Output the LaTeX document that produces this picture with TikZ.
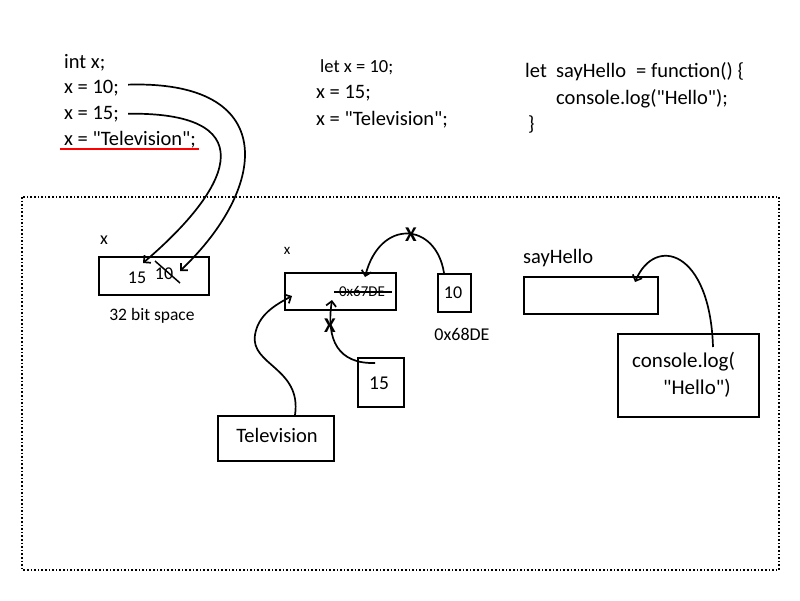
\documentclass[tikz,border=0pt]{standalone}
\usepackage{fontspec}
\setmainfont{Carlito}
\usetikzlibrary{arrows.meta}
\tikzset{
    ptr/.style={-{Straight Barb[length=5pt, width=10pt]}, line width=1.7pt},
    cell/.style={draw, line width=2pt, anchor=north west, inner sep=0pt},
    txt/.style={inner sep=0pt, anchor=base west},
    lbl/.style={inner sep=0pt, anchor=base},
    cross/.style={inner sep=0pt, font=\bfseries\fsz{21}}
}
\newcommand{\fsz}[1]{\fontsize{#1}{#1}\selectfont}
\newcommand{\dq}{\textquotedbl}

\begin{document}
\begin{tikzpicture}[x=1pt, y=-1pt]
    \useasboundingbox (0,0) rectangle (800,600);

    % Code typé
    \node[txt, font=\fsz{20.5}] (intx) at (64,68) {int x;};
    \node[txt, font=\fsz{20.5}] (ten) at (64,93) {x = 10;};
    \node[txt, font=\fsz{20.5}] (fifteen) at (64,119) {x = 15;};
    \node[txt, font=\fsz{20.5}] (tele) at (64,145) {x = \dq Television\dq;};
    \draw[red, line width=1.5pt] (60,149) -- (199,149);

    % Code let
    \node[txt, font=\fsz{18.5}] (letx) at (320,72) {let x = 10;};
    \node[txt, font=\fsz{20.5}] (midfif) at (316,98) {x = 15;};
    \node[txt, font=\fsz{20.5}] (midtele) at (316,125) {x = \dq Television\dq;};

    % Fonction
    \node[txt, font=\fsz{20.5}] (letkw) at (525,77) {let};
    \node[txt, font=\fsz{20.5}] (sayfn) at (556,77) {sayHello};
    \node[txt, font=\fsz{20.5}] (fnkw) at (636,77) {= function() \{};
    \node[txt, font=\fsz{20.5}] (conslog) at (556,104) {console.log(\dq Hello\dq);};
    \node[txt, font=\fsz{20.5}] (brace) at (528,130) {\}};

    % Mémoire
    \draw[line width=1.6pt, dash pattern=on 1.6pt off 2pt] (22,197) rectangle (779,570);

    % Premiere case : 32 bit
    \node[cell, minimum width=110pt, minimum height=38pt] (xbox) at (98,256) {};
    \node[lbl, font=\fsz{18}] (xname) at (104,244) {x};
    \node[lbl, font=\fsz{18}] (val15) at (137,283) {15};
    \node[lbl, font=\fsz{18}] (val10) at (164,279) {10};
    \draw[line width=1.5pt] (155,261) -- (180,283);
    \node[lbl, font=\fsz{17.5}] (bits) at (152,320) {32 bit space};

    \coordinate (tipten) at (180,271);
    \coordinate (tipfif) at (143,263);
    \draw[ptr] ([xshift=9pt, yshift=3pt]ten.east) .. controls (278,80) and (270,185) .. (tipten);
    \draw[ptr] ([xshift=9pt]fifteen.east) .. controls (258,112) and (240,180) .. (tipfif);

    % Deuxieme case : pointeur
    \node[cell, minimum width=111pt, minimum height=37pt] (ptrbox) at (284,272) {};
    \node[lbl, font=\fsz{15}] (xname2) at (287,254) {x};
    \node[lbl, font=\fsz{15}] (oldaddr) at (362,296) {0x67DE};
    \draw[line width=1.4pt] (334,292) -- (392,292);

    \node[cell, minimum width=33pt, minimum height=38pt] (tenbox) at (437,273) {};
    \node[lbl, font=\fsz{18}] (tenval) at (453,298) {10};
    \node[lbl, font=\fsz{18}] (newaddr) at (462,340) {0x68DE};

    \node[cell, minimum width=46pt, minimum height=49pt] (fifbox) at (357,357) {};
    \node[lbl, font=\fsz{19.5}] (fifval) at (379,389) {15};

    \node[cell, minimum width=116pt, minimum height=45pt] (tvbox) at (217,415) {};
    \node[lbl, font=\fsz{20.5}] (tvval) at (277,442) {Television};

    \coordinate (tipten2) at (365,277);
    \coordinate (tipfif2) at (332,300);
    \coordinate (tiptv) at (292,296);
    \draw[ptr] ([xshift=7pt]tenbox.north west) .. controls (436,222) and (380,218) .. (tipten2);
    \draw[ptr] ([xshift=18pt, yshift=-6pt]fifbox.north west) .. controls (338,364) and (326,340) .. (tipfif2);
    \draw[ptr] ([xshift=78pt]tvbox.north west) .. controls (302,368) and (250,365) .. (255,335)
        .. controls (258,315) and (275,305) .. (tiptv);
    \node[cross] (xten) at (411,235) {X};
    \node[cross] (xfif) at (330,326) {X};

    % Troisieme case : fonction
    \node[txt, font=\fsz{20.5}] (sayname) at (523,263) {sayHello};
    \node[cell, minimum width=134pt, minimum height=37pt] (saybox) at (523,276) {};
    \node[cell, minimum width=141pt, minimum height=83pt] (consbox) at (617,333) {};
    \node[txt, font=\fsz{21}] (cons1) at (632,367) {console.log(};
    \node[txt, font=\fsz{21}] (cons2) at (663,394) {\dq Hello\dq)};

    \coordinate (tipsay) at (635,282);
    \draw[ptr] ([xshift=96pt, yshift=-14pt]consbox.north west) .. controls (710,250) and (655,235) .. (tipsay);

\end{tikzpicture}
\end{document}
